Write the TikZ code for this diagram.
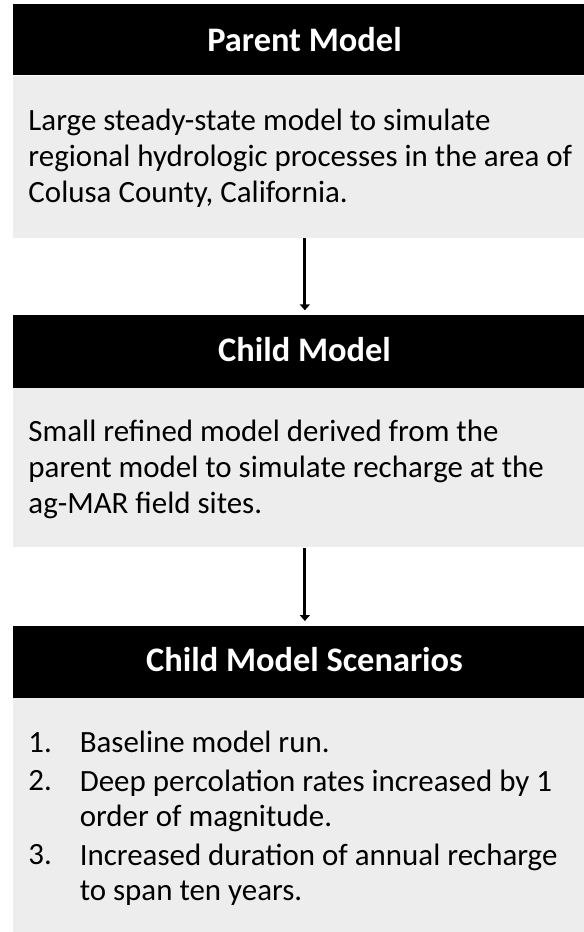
\documentclass[tikz,border=0pt]{standalone}
\usepackage{fontspec}
\setmainfont{Carlito}
\usetikzlibrary{arrows.meta}

\definecolor{boxgray}{RGB}{237,237,237}
\newcommand{\boxfont}{\fontsize{23.2}{26.7}\selectfont}
\newcommand{\headfont}{\fontsize{25.8}{30}\selectfont\bfseries}

\tikzset{every picture/.style={line width=0.75pt}}
\tikzset{
  headbox/.style={fill=black, draw=none, inner sep=0pt, anchor=north west, minimum width=437.5pt},
  bodybox/.style={fill=boxgray, draw=none, inner sep=0pt, anchor=north west, minimum width=437.5pt},
  headtext/.style={anchor=base, inner sep=0pt, text=white, font=\headfont},
  bodytext/.style={anchor=base west, inner sep=0pt, align=left, font=\boxfont},
  flowarrow/.style={line width=2.4pt, -{Triangle[length=4.5pt,width=7.5pt]}, shorten >=3pt}
}

\begin{document}
\begin{tikzpicture}[x=0.75pt,y=0.75pt,yscale=-1,xscale=1]
\path[use as bounding box] (0,0) rectangle (584,932);

%Shape: Rectangle [id:parent]
\node[headbox, minimum height=53.6pt] (parenthead) at (12.7,3.5) {};
\node[bodybox, minimum height=121.5pt] (parentbody) at (12.7,75) {};
%Shape: Rectangle [id:child]
\node[headbox, minimum height=54.75pt] (childhead) at (12.7,314.3) {};
\node[bodybox, minimum height=119.5pt] (childbody) at (12.7,387.3) {};
%Shape: Rectangle [id:scenarios]
\node[headbox, minimum height=54.5pt] (scenhead) at (12.7,625) {};
\node[bodybox, minimum height=180pt] (scenbody) at (12.7,697.7) {};

%Straight Lines [id:parent-child]
\draw[flowarrow] (parentbody.south) -- (childhead.north);
%Straight Lines [id:child-scenarios]
\draw[flowarrow] (childbody.south) -- (scenhead.north);

% Text Node
\node[headtext] (parenttitle) at (304.5,51.7) {Parent Model};
% Text Node (base = last line)
\node[bodytext] (parentdesc) at (28,202) {Large steady-state model to simulate\\regional hydrologic processes in the area of\\Colusa County, California.};
% Text Node
\node[headtext] (childtitle) at (304.5,361.7) {Child Model};
% Text Node
\node[bodytext] (childdesc) at (28,513) {Small refined model derived from the\\parent model to simulate recharge at the\\ag-MAR field sites.};
% Text Node
\node[headtext] (scentitle) at (304.5,671.7) {Child Model Scenarios};
% Text Node
\node[bodytext] (num1) at (28,752.7) {1.};
\node[bodytext] (item1) at (79.3,752.7) {Baseline model run.};
% Text Node
\node[bodytext] (num2) at (28,790) {2.};
\node[bodytext] (item2) at (79.3,826.7) {Deep percolation rates increased by 1\\order of magnitude.};
% Text Node
\node[bodytext] (num3) at (28,864) {3.};
\node[bodytext] (item3) at (79.3,900.7) {Increased duration of annual recharge\\to span ten years.};

\end{tikzpicture}
\end{document}
